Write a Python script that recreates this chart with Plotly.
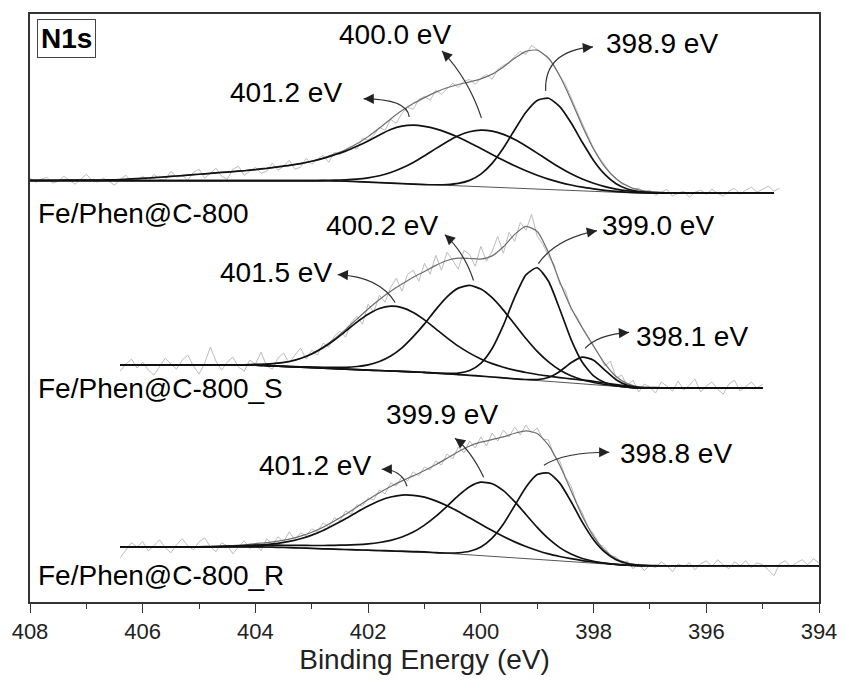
import numpy as np
import plotly.graph_objects as go

FONT = "Liberation Sans, Arial, sans-serif"
STEP_FIT = 0.2   # eV, fitted-curve sampling
STEP_RAW = 0.1   # eV, raw-spectrum sampling

# ---------------- Fe/Phen@C-800 (top) ----------------
top_name = "Fe/Phen@C-800"
top_fit_start = 408.0
top_bg = [12.5, 12.5, 12.5, 12.5, 12.5, 12.5, 12.5, 12.5, 12.5, 12.5,
          12.5, 12.5, 12.5, 12.5, 12.5, 12.5, 12.5, 12.5, 12.5, 12.5,
          12.5, 12.5, 12.5, 12.5, 12.5, 12.5, 12.5, 12.4,
          12.0, 11.54, 11.06, 10.58, 10.1, 9.62, 9.13, 8.65, 8.17, 7.69,
          7.21, 6.73, 6.25, 5.77, 5.29, 4.81, 4.33, 3.85, 3.37, 2.88,
          2.4, 1.92, 1.44, 0.96, 0.5, 0.15,
          0, 0, 0, 0, 0, 0, 0, 0, 0, 0, 0, 0, 0]
top_peaks = {
    "401.2 eV": (408.0, [0.3, 0.3, 0.4, 0.5, 0.5, 0.6, 0.7,
                         0.8, 1.2, 1.8, 2.4, 3.1, 3.9, 4.7, 5.6, 6.5, 7.4,
                         8.3, 9.1, 10.0, 11.2, 12.4, 13.9, 15.3, 17.1, 19.5, 22.4,
                         26.0, 30.1, 35.4, 41.3, 47.8, 53.7, 57.5, 59.0, 58.3, 56.3,
                         53.0, 48.8, 43.9, 38.5, 33.0, 27.7, 22.6, 18.1, 14.1, 10.7,
                         8.0, 5.8, 4.1, 2.9, 1.9, 1.3, 0.8, 0.5, 0.3, 0.2, 0.1]),
    "400.0 eV": (403.0, [0.1, 0.3, 0.7, 1.4, 2.5, 4.3, 6.9, 10.6, 15.6, 21.7, 28.8,
                         36.5, 43.9, 50.3, 54.8, 56.9, 56.4, 53.6, 49.0, 43.0, 36.3,
                         29.4, 22.9, 17.1, 12.3, 8.5, 5.6, 3.6, 2.2, 1.3, 0.7, 0.4, 0.2]),
    "398.9 eV": (400.8, [0.3, 1.0, 2.6, 6.1, 12.9, 24.1, 39.9, 58.7, 76.7, 89.0, 91.7,
                         83.8, 68.1, 49.1, 31.4, 17.9, 9.0, 4.0, 1.6, 0.6, 0.2]),
}
top_raw_start = 408.0
top_raw = [15, 11, 14, 16, 10, 12, 17, 13, 9, 14,
           19, 13, 11, 15, 12, 8, 14, 18, 12, 13,
           17, 12, 19, 14, 13, 22, 16, 18, 13, 21,
           24, 15, 20, 25, 17, 14, 24, 27, 18, 22,
           26, 20, 22, 30, 23, 27, 33, 24, 26, 35,
           29, 34, 38, 31, 41, 39, 44, 47, 44, 55,
           53, 58, 66, 63, 74, 70, 80, 86, 84, 94,
           97, 93, 103, 99, 104, 110, 106, 112, 114, 109,
           115, 119, 114, 124, 128, 131, 137, 142, 139, 148,
           144, 140, 136, 128, 117, 109, 95, 83, 70, 57,
           45, 36, 28, 20, 15, 9, 8, 4, 5, 1,
           3, -2, 1, 4, -3, 0, 2, -4, 1, 3,
           -1, 4, 0, -3, 2, 5, -1, 3, 6, 1,
           4, 7, 2, 5]

# ---------------- Fe/Phen@C-800_S (middle) ----------------
mid_name = "Fe/Phen@C-800_S"
mid_fit_start = 406.4
mid_bg = [23, 23, 23, 23, 23, 23, 23, 23, 23, 23, 23, 23, 23,
          22.5, 22, 21.5, 21, 20.5, 20, 19.5, 19, 18.5, 18,
          17.6, 17.1, 16.7, 16.2, 15.8, 15.0, 14.3, 13.5, 12.8, 12.0,
          11.1, 10.2, 9.3, 8.4, 7.5, 6.7, 5.9, 5.1, 4.3, 3.5,
          2.6, 1.7, 0.8,
          0, 0, 0, 0, 0, 0, 0, 0, 0, 0, 0, 0]
mid_peaks = {
    "401.5 eV": (404.2, [0.3, 0.7, 1.5, 2.9, 5.1, 8.6, 13.6, 20.3, 28.6, 38.0,
                         47.5, 55.9, 62.1, 64.9, 63.9, 59.5, 52.5, 44.3, 36.0, 28.5,
                         22.2, 17.2, 13.4, 10.6, 8.6, 7.2, 6.1, 5.3, 4.6, 4.1,
                         3.7, 3.3, 2.5, 1.8, 1.2, 0.8, 0.5, 0.3, 0.1]),
    "400.2 eV": (403.2, [0.3, 0.5, 0.8, 1.2, 1.8, 3.1, 5.3, 9.0, 15.0, 23.6,
                         35.3, 48.5, 63.6, 77.1, 86.6, 90.0, 87.2, 79.4, 67.9, 54.6,
                         41.2, 29.2, 19.5, 12.2, 7.2, 4.0, 2.1, 1.0, 0.5, 0.2]),
    "399.0 eV": (400.6, [0.4, 1.5, 4.8, 12.8, 28.5, 52.8, 81.5, 105.0, 113.0, 100.3,
                         73.1, 43.7, 21.5, 8.7, 2.9, 0.8, 0.2]),
    "398.1 eV": (399.2, [0.2, 1.0, 3.9, 10.7, 20.3, 26.7, 24.4, 15.4, 6.7, 2.0, 0.4]),
}
mid_raw_start = 406.4
mid_raw = [17, 24, 29, 20, 26, 18, 13, 21, 30, 24,
           19, 28, 33, 22, 14, 25, 41, 27, 18, 26,
           31, 21, 17, 28, 24, 36, 22, 19, 30, 35,
           25, 33, 40, 29, 38, 33, 45, 41, 52, 57,
           51, 66, 72, 64, 84, 76, 93, 86, 101, 110,
           97, 114, 118, 107, 125, 114, 133, 118, 136, 128,
           119, 138, 134, 122, 142, 127, 137, 152, 135, 156,
           147, 166, 158, 174, 152, 144, 132, 124, 104, 98,
           79, 72, 61, 52, 43, 33, 22, 27, 10, 13,
           2, 8, -4, 4, 1, -5, 6, 2, -3, 7,
           -2, 3, 9, -4, 2, 6, -1, -6, 4, 8,
           -3, 2, 6, 0, 4]

# ---------------- Fe/Phen@C-800_R (bottom) ----------------
bot_name = "Fe/Phen@C-800_R"
bot_fit_start = 406.4
bot_bg = [19, 19, 19, 19, 19, 19, 19, 19, 19, 19, 19, 19, 19,
          18.8, 18.5, 18.2, 17.8, 17.4, 17.0, 16.7, 16.3, 16.0, 15.6,
          15.3, 14.9, 14.6, 14.2, 13.9, 13.2, 12.4, 11.7, 10.9, 10.1,
          9.4, 8.6, 7.8, 7.1, 6.3, 5.5, 4.8, 4.0, 3.2, 2.5,
          1.7, 0.9, 0.3,
          0, 0, 0, 0, 0, 0, 0, 0, 0, 0, 0, 0, 0, 0, 0, 0, 0]
bot_peaks = {
    "401.2 eV": (404.6, [0.2, 0.5, 0.8, 1.5, 2.5, 4.0, 6.2, 9.3, 13.3, 18.3,
                         24.3, 30.8, 37.7, 44.2, 49.9, 54.0, 56.2, 56.3, 54.8, 51.8,
                         47.7, 42.7, 37.1, 31.4, 25.9, 20.7, 16.1, 12.2, 9.0, 6.4,
                         4.5, 3.1, 2.0, 1.3, 0.8, 0.5, 0.3, 0.2]),
    "399.9 eV": (404.8, [0.2, 0.4, 0.8, 1.2, 1.7, 1.9, 2.1, 2.3, 2.6, 2.9,
                         3.3, 3.8, 4.4, 5.2, 6.4, 8.0, 10.5, 14.2, 19.5, 26.8,
                         36.2, 47.2, 58.6, 68.3, 73.6, 72.8, 66.6, 56.4, 44.3, 32.1,
                         21.6, 13.4, 7.7, 4.1, 2.0, 0.9, 0.4, 0.2]),
    "398.8 eV": (400.6, [0.4, 1.3, 3.6, 8.7, 18.3, 33.2, 52.4, 71.6, 85.0, 87.4,
                         78.0, 60.4, 40.5, 23.6, 11.9, 5.2, 2.0, 0.7, 0.2]),
}
bot_raw_start = 406.4
bot_raw = [8, 16, 23, 19, 24, 15, 20, 26, 18, 13,
           21, 27, 20, 16, 24, 28, 19, 14, 23, 20,
           12, 19, 25, 17, 22, 15, 27, 21, 29, 24,
           34, 26, 33, 30, 37, 34, 43, 39, 48, 45,
           55, 52, 61, 60, 68, 66, 76, 72, 83, 80,
           89, 85, 94, 90, 99, 96, 105, 101, 112, 107,
           119, 113, 125, 118, 129, 120, 133, 125, 136, 129,
           139, 131, 141, 133, 138, 127, 126, 110, 105, 89,
           80, 63, 53, 39, 32, 22, 18, 10, 9, 2,
           5, -3, 2, -5, 1, -2, 4, 0, -6, 2,
           -1, 3, -4, 2, 5, -1, 6, 1, -3, 4,
           0, 5, -2, 3, 1, -4, -10, 2, 5, -1,
           3, 6, 1, 7, 3]

# ---------------- layout helpers (positions, not data) ----------------
spectra = [
    dict(name=top_name, fit_start=top_fit_start, bg=top_bg, peaks=top_peaks,
         raw_start=top_raw_start, raw=top_raw, offset=409.5, name_pos=389),
    dict(name=mid_name, fit_start=mid_fit_start, bg=mid_bg, peaks=mid_peaks,
         raw_start=mid_raw_start, raw=mid_raw, offset=214.3, name_pos=214),
    dict(name=bot_name, fit_start=bot_fit_start, bg=bot_bg, peaks=bot_peaks,
         raw_start=bot_raw_start, raw=bot_raw, offset=36.3, name_pos=27),
]
label_pos = [
    [(403.45, 510), (401.52, 568), (396.78, 559)],
    [(403.63, 330), (401.76, 377), (396.86, 377), (396.25, 266)],
    [(402.94, 137), (400.69, 188), (396.53, 149)],
]
arrows = [
    [((401.27, 486), (401.31, 504), (402.08, 504), (10, 0)),
     ((399.99, 485), (400.22, 524), (400.69, 552), (7, 7)),
     ((398.85, 512), (398.88, 552), (398.01, 556), (-10, 1))],
    [((401.52, 300), (401.80, 326), (402.54, 328), (10, 0.5)),
     ((400.13, 322), (400.29, 350), (400.64, 368), (7.4, 6.7)),
     ((398.98, 339), (398.67, 364), (397.94, 372), (-9.8, 1.9)),
     ((398.15, 254), (397.92, 268), (397.37, 270), (-10, 0.6))],
    [((401.31, 116), (401.41, 133), (401.76, 133), (10, 0)),
     ((399.95, 125), (400.18, 152), (400.46, 164), (8, 6)),
     ((398.88, 137), (398.53, 150), (397.72, 150), (-10, 0))],
]

fig = go.Figure()
shapes = []
for si, s in enumerate(spectra):
    n = len(s["bg"])
    E = np.round(s["fit_start"] - STEP_FIT * np.arange(n), 2)
    bg = np.array(s["bg"], dtype=float)
    total = bg.copy()
    comps = []
    for label, (e0, vals) in s["peaks"].items():
        full = np.zeros(n)
        i0 = int(round((s["fit_start"] - e0) / STEP_FIT))
        full[i0:i0 + len(vals)] = vals
        comps.append(full)
        total += full
    off = s["offset"]
    Er = np.round(s["raw_start"] - STEP_RAW * np.arange(len(s["raw"])), 2)
    fig.add_trace(go.Scatter(x=Er, y=np.array(s["raw"], dtype=float) + off, mode="lines",
                             line=dict(color="#bcbcbc", width=1), hoverinfo="skip"))
    fig.add_trace(go.Scatter(x=E, y=bg + off, mode="lines",
                             line=dict(color="#555555", width=1), hoverinfo="skip"))
    fig.add_trace(go.Scatter(x=E, y=total + off, mode="lines",
                             line=dict(color="#6e6e6e", width=1.2, shape="spline", smoothing=0.6),
                             hoverinfo="skip"))
    for c in comps:
        fig.add_trace(go.Scatter(x=E, y=bg + c + off, mode="lines",
                                 line=dict(color="#111111", width=1.7, shape="spline", smoothing=0.6),
                                 hoverinfo="skip"))
    fig.add_annotation(x=407.9, y=s["name_pos"], text=s["name"], showarrow=False,
                       xanchor="left", yanchor="middle", font=dict(size=28, color="#000"))
    for label, (lx, ly) in zip(s["peaks"].keys(), label_pos[si]):
        fig.add_annotation(x=lx, y=ly, text=label, showarrow=False,
                           xanchor="center", yanchor="middle", font=dict(size=28, color="#000"))
    for (p0, pc, p1, (ax, ay)) in arrows[si]:
        shapes.append(dict(type="path", xref="x", yref="y",
                           path=f"M {p0[0]},{p0[1]} Q {pc[0]},{pc[1]} {p1[0]},{p1[1]}",
                           line=dict(color="#333333", width=1.2)))
        fig.add_annotation(x=p1[0], y=p1[1], ax=ax, ay=ay, text="", showarrow=True,
                           arrowhead=2, arrowsize=1.7, arrowwidth=1.2, arrowcolor="#222",
                           standoff=0)

fig.add_annotation(xref="paper", yref="paper", x=0.0088, y=0.992, xanchor="left", yanchor="top",
                   text="<b>N1s</b>", showarrow=False, font=dict(size=28, color="#000"),
                   bordercolor="#444", borderwidth=1, borderpad=3, bgcolor="white")

fig.update_layout(width=849, height=688, margin=dict(l=29, r=23, t=13, b=86),
                  paper_bgcolor="white", plot_bgcolor="white", showlegend=False,
                  font=dict(family=FONT, color="#111"), shapes=shapes)
fig.update_xaxes(range=[408, 394], tick0=394, dtick=2, ticks="outside", ticklen=9,
                 tickwidth=1.4, tickcolor="#333",
                 minor=dict(ticks="outside", ticklen=5, dtick=1, tickwidth=1.2,
                            tickcolor="#333", showgrid=False),
                 showline=True, linecolor="#333", linewidth=1.5, mirror=True,
                 showgrid=False, zeroline=False,
                 tickfont=dict(size=22, color="#222"),
                 title=dict(text="Binding Energy (eV)", font=dict(size=28, color="#222"), standoff=6))
fig.update_yaxes(range=[0, 589], showticklabels=False, ticks="", showline=True, mirror=True,
                 linecolor="#333", linewidth=1.5, showgrid=False, zeroline=False)

fig.write_html("out.html")
